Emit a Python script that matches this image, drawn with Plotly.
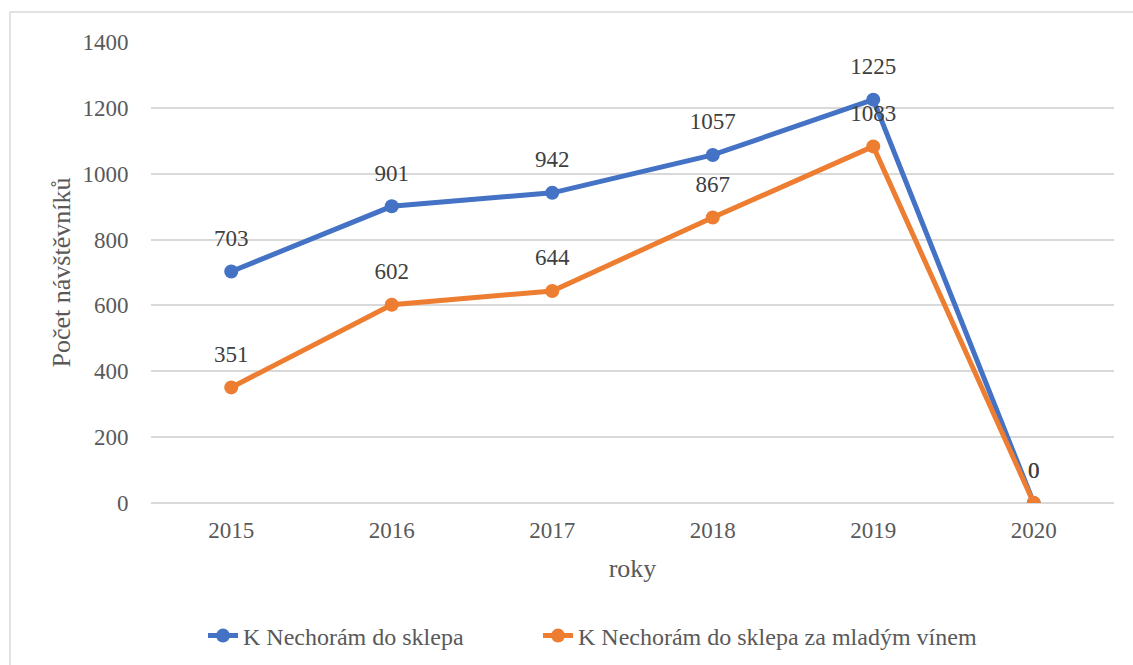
import plotly.graph_objects as go

years = ["2015", "2016", "2017", "2018", "2019", "2020"]
series_names = ["K Nechorám do sklepa", "K Nechorám do sklepa za mladým vínem"]
values_blue = [703, 901, 942, 1057, 1225, 0]
values_orange = [351, 602, 644, 867, 1083, 0]
colors = ["#4472C4", "#ED7D31"]
y_ticks = [0, 200, 400, 600, 800, 1000, 1200, 1400]

FONT = "Liberation Serif, Times New Roman, serif"
W, H = 1133, 665
L, R, T, B = 151, 19, 42, 162
pw, ph = W - L - R, H - T - B

fig = go.Figure()
legends = ["legend", "legend2"]
for name, vals, col, lg in zip(series_names, [values_blue, values_orange], colors, legends):
    fig.add_trace(go.Scatter(
        x=years, y=vals, name=name, mode="lines+markers",
        line=dict(color=col, width=5),
        marker=dict(color=col, size=14),
        legend=lg,
    ))
for vals in [values_blue, values_orange]:
    fig.add_trace(go.Scatter(
        x=years, y=vals, mode="markers+text", text=[str(v) for v in vals],
        textposition="top center",
        textfont=dict(family=FONT, size=23, color="#404040"),
        marker=dict(size=30, opacity=0),
        showlegend=False, hoverinfo="skip",
    ))

legend_style = dict(
    orientation="h", xref="container", yref="container",
    xanchor="left", y=1 - 636 / H, yanchor="middle",
    font=dict(family=FONT, size=24, color="#595959"),
    bgcolor="rgba(0,0,0,0)",
)

fig.update_layout(
    width=W, height=H,
    margin=dict(l=L, r=R, t=T, b=B, autoexpand=False),
    paper_bgcolor="white", plot_bgcolor="white",
    font=dict(family=FONT, size=22, color="#595959"),
    showlegend=True,
    legend=dict(legend_style, x=203 / W),
    legend2=dict(legend_style, x=538 / W),
    shapes=[dict(
        type="rect", xref="paper", yref="paper",
        x0=(10 - L) / pw, x1=(1145 - L) / pw,
        y0=-(690 - T - ph) / ph, y1=1 + (T - 12) / ph,
        line=dict(color="#D9D9D9", width=1.5), layer="below",
    )],
)

fig.update_xaxes(
    type="category", range=[-0.5, 5.5],
    showgrid=False, showline=False, zeroline=False,
    ticks="outside", ticklen=6, tickcolor="rgba(0,0,0,0)",
    tickfont=dict(family=FONT, size=23, color="#595959"),
    title=dict(text="roky", standoff=17, font=dict(family=FONT, size=26, color="#595959")),
)
fig.update_yaxes(
    range=[0, 1400], tickvals=y_ticks,
    showgrid=True, gridcolor="#D9D9D9", gridwidth=1.5,
    zeroline=True, zerolinecolor="#D9D9D9", zerolinewidth=1.5,
    showline=False,
    ticks="outside", ticklen=17, tickcolor="rgba(0,0,0,0)",
    tickfont=dict(family=FONT, size=23, color="#595959"),
    title=dict(text="Počet návštěvníků", standoff=4, font=dict(family=FONT, size=26, color="#595959")),
)

fig.write_html("out.html", config={"displayModeBar": False},
               post_script="document.body.style.margin='0';")
